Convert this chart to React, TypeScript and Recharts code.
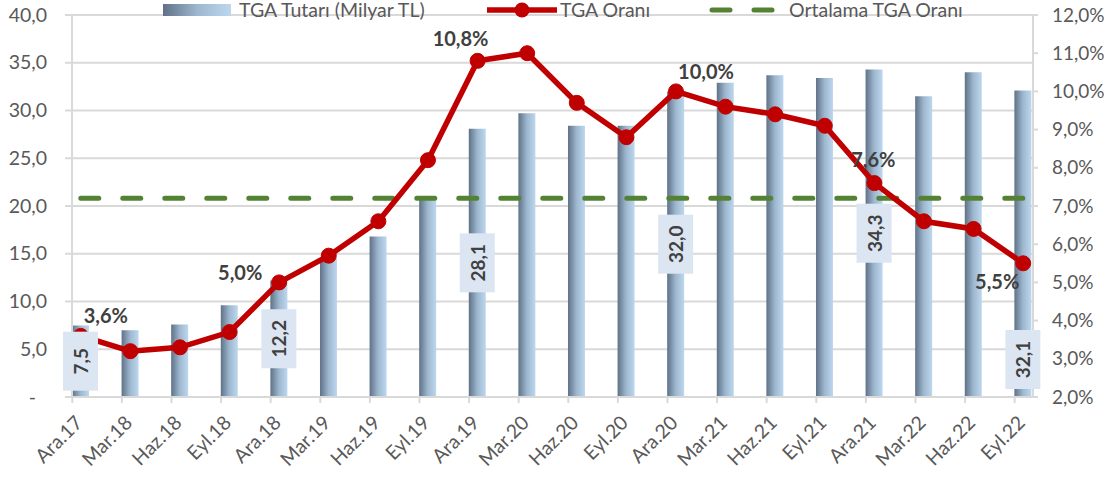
import React from "react";
import {
  ComposedChart,
  Bar,
  Line,
  XAxis,
  YAxis,
  CartesianGrid,
  LabelList,
  Legend,
} from "recharts";

const categories = [
  "Ara.17", "Mar.18", "Haz.18", "Eyl.18", "Ara.18", "Mar.19", "Haz.19", "Eyl.19",
  "Ara.19", "Mar.20", "Haz.20", "Eyl.20", "Ara.20", "Mar.21", "Haz.21", "Eyl.21",
  "Ara.21", "Mar.22", "Haz.22", "Eyl.22",
];
// TGA Tutarı (Milyar TL)
const tgaAmount = [
  7.5, 7.0, 7.6, 9.6, 12.2, 14.5, 16.8, 20.8, 28.1, 29.7,
  28.4, 28.4, 32.0, 32.9, 33.7, 33.4, 34.3, 31.5, 34.0, 32.1,
];
// TGA Oranı (%)
const tgaRatio = [
  3.6, 3.2, 3.3, 3.7, 5.0, 5.7, 6.6, 8.2, 10.8, 11.0,
  9.7, 8.8, 10.0, 9.6, 9.4, 9.1, 7.6, 6.6, 6.4, 5.5,
];
// Ortalama TGA Oranı (%)
const avgRatio = [
  7.2, 7.2, 7.2, 7.2, 7.2, 7.2, 7.2, 7.2, 7.2, 7.2,
  7.2, 7.2, 7.2, 7.2, 7.2, 7.2, 7.2, 7.2, 7.2, 7.2,
];
const leftTicks = [0, 5, 10, 15, 20, 25, 30, 35, 40];
const rightTicks = [2, 3, 4, 5, 6, 7, 8, 9, 10, 11, 12];
const labeledCats = ["Ara.17", "Ara.18", "Ara.19", "Ara.20", "Ara.21", "Eyl.22"];

const data = categories.map((cat, i) => ({
  pos: i,
  cat,
  amount: tgaAmount[i],
  ratio: tgaRatio[i],
  avg: avgRatio[i],
}));
const catTicks = categories.map((_, i) => i);

// where the % labels sit, relative to their point
const ratioLabelShift: Record<string, [number, number]> = {
  "Ara.17": [25, -21],
  "Ara.18": [-39, -10],
  "Ara.19": [-17, -23],
  "Ara.20": [30, -20],
  "Ara.21": [-1, -24],
  "Eyl.22": [-26, 18],
};

const FONT = "Lato, 'DejaVu Sans', sans-serif";
const GRID = "#D9D9D9";
const TEXT = "#595959";
const RED = "#C00000";
const GREEN = "#548235";
const FS = 19.5;

const fmt1 = (v: number) => v.toFixed(1).replace(".", ",");

const XTick = (props: any) => {
  const { x, y, payload } = props;
  return (
    <g>
      <line x1={x - 8.5} x2={x - 8.5} y1={y} y2={y + 6} stroke={GRID} strokeWidth={2} />
      <text
        transform={`translate(${x + 3},${y + 27}) rotate(-45)`}
        textAnchor="end"
        fontFamily={FONT}
        fontSize={FS}
        fill={TEXT}
      >
        {categories[payload.value]}
      </text>
    </g>
  );
};

const LeftTick = (props: any) => {
  const { x, y, payload } = props;
  const v = payload.value as number;
  return (
    <g>
      <line x1={x - 7} x2={x} y1={y} y2={y} stroke={GRID} strokeWidth={2} />
      <text
        x={v === 0 ? x - 36 : x - 25}
        y={y}
        dy={6.5}
        textAnchor="end"
        fontFamily={FONT}
        fontSize={FS}
        fill={TEXT}
      >
        {v === 0 ? "-" : fmt1(v)}
      </text>
    </g>
  );
};

const RightTick = (props: any) => {
  const { x, y, payload } = props;
  return (
    <g>
      <line x1={x} x2={x + 5} y1={y} y2={y} stroke={GRID} strokeWidth={2} />
      <text x={x + 19} y={y} dy={6.5} textAnchor="start" fontFamily={FONT} fontSize={19} fill={TEXT}>
        {fmt1(payload.value) + "%"}
      </text>
    </g>
  );
};

const AmountLabel = (props: any) => {
  const { x, y, width, height, value, index } = props;
  const cat = categories[index];
  if (!labeledCats.includes(cat)) return null;
  const cx = x + width / 2;
  const cy = cat === "Eyl.22" ? y + height - 37.5 : y + height / 2;
  return (
    <g>
      <rect x={cx - 17.5} y={cy - 29.5} width={35} height={59} fill="#DCE6F2" />
      <text
        x={cx}
        y={cy}
        transform={`rotate(-90 ${cx} ${cy})`}
        textAnchor="middle"
        dominantBaseline="central"
        fontFamily={FONT}
        fontWeight="bold"
        fontSize={19}
        fill="#404040"
      >
        {fmt1(value)}
      </text>
    </g>
  );
};

const RatioLabel = (props: any) => {
  const { x, y, value, index } = props;
  const cat = categories[index];
  const shift = ratioLabelShift[cat];
  if (!shift) return null;
  return (
    <text
      x={x + shift[0]}
      y={y + shift[1]}
      textAnchor="middle"
      dominantBaseline="central"
      fontFamily={FONT}
      fontWeight="bold"
      fontSize={20}
      fill="#404040"
    >
      {fmt1(value) + "%"}
    </text>
  );
};

const LegendBox = () => (
  <svg width={1110} height={24} style={{ display: "block", overflow: "visible" }}>
    <defs>
      <linearGradient id="legendGrad" x1="0" y1="0" x2="1" y2="0">
        <stop offset="0%" stopColor="#5F7186" />
        <stop offset="50%" stopColor="#9DB7CF" />
        <stop offset="100%" stopColor="#BDD7EE" />
      </linearGradient>
    </defs>
    <rect x={163} y={4} width={68} height={12} fill="url(#legendGrad)" />
    <text x={239} y={17} fontFamily={FONT} fontSize={FS} fill={TEXT}>
      TGA Tutarı (Milyar TL)
    </text>
    <line x1={487} x2={557} y1={10} y2={10} stroke={RED} strokeWidth={5.5} />
    <circle cx={522} cy={10} r={7.5} fill={RED} />
    <text x={560} y={17} fontFamily={FONT} fontSize={FS} fill={TEXT}>
      TGA Oranı
    </text>
    <line
      x1={712}
      x2={773}
      y1={10}
      y2={10}
      stroke={GREEN}
      strokeWidth={5}
      strokeDasharray="18 24"
      strokeLinecap="round"
    />
    <text x={789} y={17} fontFamily={FONT} fontSize={FS} fill={TEXT}>
      Ortalama TGA Oranı
    </text>
  </svg>
);

export default function App() {
  return (
    <div style={{ position: "absolute", left: 0, top: 0, width: 1110, height: 479, fontFamily: FONT }}>
      <ComposedChart
        width={1110}
        height={479}
        data={data}
        margin={{ top: 15, right: 0, left: 0, bottom: 0 }}
      >
        <defs>
          <linearGradient id="barGrad" x1="0" y1="0" x2="1" y2="0">
            <stop offset="0%" stopColor="#5F7186" />
            <stop offset="50%" stopColor="#9DB7CF" />
            <stop offset="100%" stopColor="#BDD7EE" />
          </linearGradient>
        </defs>
        <CartesianGrid yAxisId="left" vertical={false} stroke={GRID} strokeWidth={2} />
        <XAxis
          dataKey="pos"
          type="number"
          domain={[-0.177, 19.198]}
          allowDataOverflow
          ticks={catTicks}
          interval={0}
          height={82}
          tickSize={0}
          tickMargin={0}
          tickLine={false}
          axisLine={{ stroke: GRID, strokeWidth: 2 }}
          tick={<XTick />}
        />
        <YAxis
          yAxisId="left"
          orientation="left"
          width={72}
          domain={[0, 40]}
          ticks={leftTicks}
          interval={0}
          tickSize={0}
          tickMargin={0}
          tickLine={false}
          axisLine={{ stroke: GRID, strokeWidth: 2 }}
          tick={<LeftTick />}
        />
        <YAxis
          yAxisId="right"
          orientation="right"
          width={77}
          domain={[2, 12]}
          ticks={rightTicks}
          interval={0}
          tickSize={0}
          tickMargin={0}
          tickLine={false}
          axisLine={{ stroke: GRID, strokeWidth: 2 }}
          tick={<RightTick />}
        />
        <Legend
          layout="horizontal"
          verticalAlign="middle"
          align="center"
          wrapperStyle={{ top: 0, left: 0, width: 1110, height: 24 }}
          content={<LegendBox />}
        />
        <Bar
          yAxisId="left"
          dataKey="amount"
          name="TGA Tutarı (Milyar TL)"
          barSize={17}
          fill="url(#barGrad)"
          isAnimationActive={false}
        >
          <LabelList dataKey="amount" content={<AmountLabel />} />
        </Bar>
        <Line
          yAxisId="right"
          dataKey="avg"
          name="Ortalama TGA Oranı"
          stroke={GREEN}
          strokeWidth={5}
          strokeDasharray="18 24"
          strokeLinecap="round"
          dot={false}
          activeDot={false}
          isAnimationActive={false}
        />
        <Line
          yAxisId="right"
          dataKey="ratio"
          name="TGA Oranı"
          stroke={RED}
          strokeWidth={5.5}
          dot={{ r: 7.5, fill: RED, stroke: RED, strokeWidth: 1 }}
          activeDot={false}
          isAnimationActive={false}
        >
          <LabelList dataKey="ratio" content={<RatioLabel />} />
        </Line>
      </ComposedChart>
    </div>
  );
}
